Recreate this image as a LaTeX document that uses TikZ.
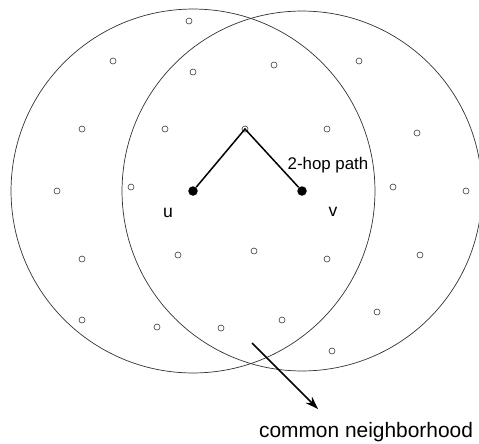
\documentclass[tikz,border=0pt]{standalone}
\usepackage{fontspec}
\setmainfont{Liberation Sans}
\usetikzlibrary{arrows.meta}
\tikzset{
    host/.style={circle, draw=black!75, line width=0.35pt, fill=white, inner sep=0pt, minimum size=0.12cm},
    endpt/.style={circle, fill=black, inner sep=0pt, minimum size=0.19cm},
    txrange/.style={draw=black!80, line width=0.4pt},
    hop/.style={line width=0.85pt}
}
\begin{document}
\begin{tikzpicture}[x=0.02cm, y=-0.02cm]
        \useasboundingbox (0,0) rectangle (479,443);
        % the two transmission ranges
        \node[endpt] (u) at (193,191) {};
        \node[endpt] (v) at (302,191) {};
        \draw[txrange] (u.center) circle[radius=3.64cm];
        \draw[txrange] (v.center) circle[radius=3.6cm];
        % other hosts
        \foreach \px/\py [count=\i] in {189/21, 113/61, 193/72, 274/65, 359/61,
                82/129, 165/129, 327/129, 417/133,
                57/191, 131/187, 393/187, 466/191,
                82/259, 178/255, 254/251, 327/259, 420/255,
                82/320, 157/327, 221/328, 282/320, 377/312, 332/351}
            \node[host] (h\i) at (\px,\py) {};
        \node[host] (w) at (245,129) {};
        \draw[hop] (u) -- (w.center) -- (v);
        \node[font=\fontsize{9.6}{11}\selectfont] (hoplbl) at (328,165) {2-hop path};
        \node[font=\fontsize{10}{12}\selectfont] (ulbl) at (168,213) {u};
        \node[font=\fontsize{10}{12}\selectfont] (vlbl) at (333,212) {v};
        % pointer to the common neighborhood
        \coordinate (cnfrom) at (252,343);
        \coordinate (cnto) at (318,409);
        \draw[hop, -{Stealth[length=2.6mm, width=1.8mm]}] (cnfrom) -- (cnto);
        \node[font=\fontsize{11.9}{14}\selectfont] (cnlbl) at (366,432) {common neighborhood};
    \end{tikzpicture}
\end{document}
